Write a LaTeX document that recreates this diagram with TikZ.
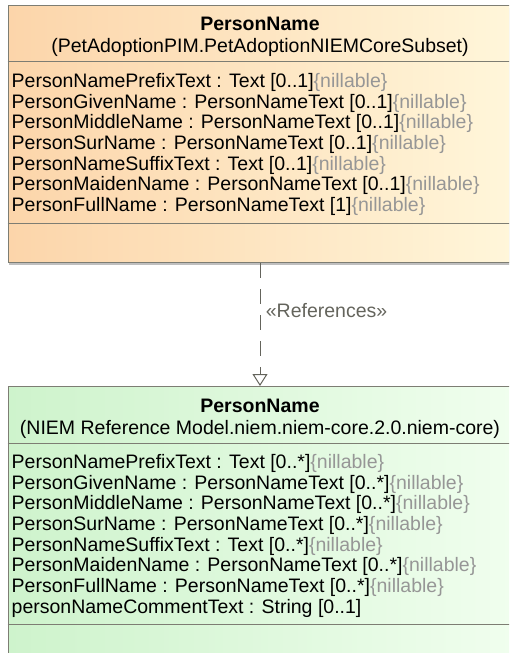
\documentclass[tikz,border=0pt]{standalone}
\usepackage{fontspec}
\setmainfont{Liberation Sans}
\usetikzlibrary{positioning, arrows.meta, shadows}
\definecolor{peachleft}{RGB}{252,213,170}
\definecolor{peachright}{RGB}{255,246,218}
\definecolor{mintleft}{RGB}{206,243,204}
\definecolor{mintright}{RGB}{240,254,238}
\definecolor{umlline}{RGB}{125,125,115}
\definecolor{nillgray}{RGB}{150,150,150}
\newcommand{\nill}{{\color{nillgray}\{nillable\}}}

\begin{document}
\begin{tikzpicture}[x=1pt, y=-1pt,
  font=\fontsize{19.5pt}{20.7pt}\selectfont,
  classbox/.style={draw=umlline, line width=1pt, minimum width=504pt, inner sep=0pt},
  classname/.style={font=\fontsize{19.5pt}{20.7pt}\selectfont\bfseries, inner sep=0pt},
  pkgname/.style={inner sep=0pt},
  attrs/.style={align=left, inner sep=0pt},
  sepline/.style={umlline, line width=1pt},
  refarrow/.style={dash pattern=on 15pt off 11pt, line width=1pt, umlline!80!black,
                   -{Triangle[open, length=12pt, width=15pt]}}
]
  \clip (0,0) rectangle (509,653);
  \node[classbox, minimum height=257pt, left color=peachleft, right color=peachright,
        drop shadow={shadow xshift=1pt, shadow yshift=-2pt, opacity=.5}, anchor=north] (pim) at (260,5) {};
  \node[classname, below=12pt of pim.north] (pimname) {PersonName};
  \node[pkgname, below=7.5pt of pimname] (pimpkg) {(PetAdoptionPIM.PetAdoptionNIEMCoreSubset)};
  \coordinate[below=4pt of pimpkg.south] (pimsep);
  \node[attrs, below right=68pt and 4pt of pim.north west] (pimattrs) {%
    PersonNamePrefixText : Text [0..1]\nill\\
    PersonGivenName : PersonNameText [0..1]\nill\\
    PersonMiddleName : PersonNameText [0..1]\nill\\
    PersonSurName : PersonNameText [0..1]\nill\\
    PersonNameSuffixText : Text [0..1]\nill\\
    PersonMaidenName : PersonNameText [0..1]\nill\\
    PersonFullName : PersonNameText [1]\nill};
  \coordinate[below=7.5pt of pimattrs.south] (pimopsep);
  \draw[sepline] (pim.west |- pimsep) -- (pim.east |- pimsep);
  \draw[sepline] (pim.west |- pimopsep) -- (pim.east |- pimopsep);

  \node[classbox, minimum height=290pt, left color=mintleft, right color=mintright,
        below=123pt of pim] (niem) {};
  \node[classname, below=13pt of niem.north] (niemname) {PersonName};
  \node[pkgname, below=7.5pt of niemname] (niempkg) {(NIEM Reference Model.niem.niem-core.2.0.niem-core)};
  \coordinate[below=4pt of niempkg.south] (niemsep);
  \node[attrs, below right=68pt and 4pt of niem.north west] (niemattrs) {%
    PersonNamePrefixText : Text [0..*]\nill\\
    PersonGivenName : PersonNameText [0..*]\nill\\
    PersonMiddleName : PersonNameText [0..*]\nill\\
    PersonSurName : PersonNameText [0..*]\nill\\
    PersonNameSuffixText : Text [0..*]\nill\\
    PersonMaidenName : PersonNameText [0..*]\nill\\
    PersonFullName : PersonNameText [0..*]\nill\\
    personNameCommentText : String [0..1]};
  \coordinate[below=7.5pt of niemattrs.south] (niemopsep);
  \draw[sepline] (niem.west |- niemsep) -- (niem.east |- niemsep);
  \draw[sepline] (niem.west |- niemopsep) -- (niem.east |- niemopsep);

  \draw[refarrow] (pim) -- node[right=2pt, pos=.39] (reflabel) {«References»} (niem);
\end{tikzpicture}
\end{document}
